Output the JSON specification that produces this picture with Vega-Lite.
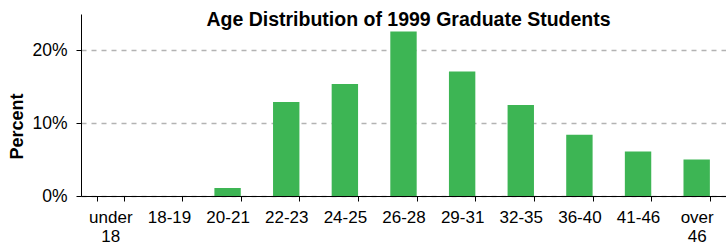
{
  "$schema": "https://vega.github.io/schema/vega-lite/v6.json",
  "autosize": "none",
  "width": 645,
  "height": 182,
  "padding": {"left": 81, "top": 14, "right": 0, "bottom": 50},
  "background": "white",
  "config": {"font": "Liberation Sans", "view": {"stroke": null}},
  "title": {"text": "Age Distribution of 1999 Graduate Students", "fontSize": 19.5, "fontWeight": "bold", "color": "black", "anchor": "middle", "offset": -16, "dx": 5, "font": "Liberation Sans"},
  "data": {"values": [
    {"age": "under 18", "pct": 0},
    {"age": "18-19", "pct": 0},
    {"age": "20-21", "pct": 0.011},
    {"age": "22-23", "pct": 0.129},
    {"age": "24-25", "pct": 0.154},
    {"age": "26-28", "pct": 0.226},
    {"age": "29-31", "pct": 0.171},
    {"age": "32-35", "pct": 0.125},
    {"age": "36-40", "pct": 0.084},
    {"age": "41-46", "pct": 0.061},
    {"age": "over 46", "pct": 0.050}
  ]},
  "mark": {"type": "bar", "color": "#3db554"},
  "encoding": {
    "x": {"field": "age", "type": "nominal", "sort": null,
      "scale": {"paddingInner": 0.55, "paddingOuter": 0.275},
      "axis": {"title": null, "labelAngle": 0, "labelFontSize": 17, "labelColor": "black", "labelExpr": "split(datum.label, ' ')", "labelLineHeight": 19, "tickBand": "extent", "tickSize": 5, "tickColor": "black", "domainColor": "black", "labelPadding": 8}},
    "y": {"field": "pct", "type": "quantitative",
      "scale": {"domain": [0, 0.25]},
      "axis": {"title": "Percent", "titleFontSize": 18, "titleFontWeight": "bold", "titleColor": "black", "titleX": -55, "titleY": 112, "values": [0, 0.1, 0.2], "format": ".0%", "labelFontSize": 17.5, "labelColor": "black", "labelPadding": 9, "tickSize": 5, "tickColor": "black", "domainColor": "black", "grid": true, "gridDash": [5, 5], "gridColor": "#b3b3b3", "gridWidth": 1.5}}
  }
}
